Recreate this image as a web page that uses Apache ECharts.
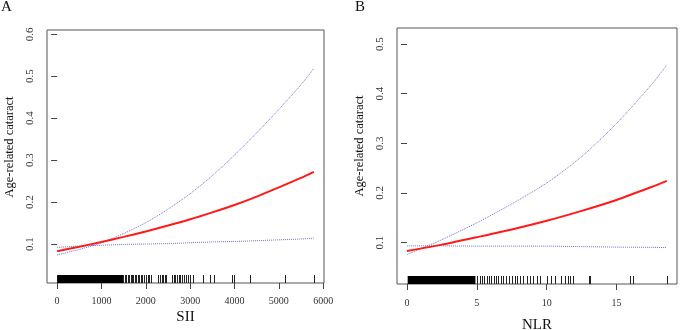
<!DOCTYPE html>
<html>
<head>
<meta charset="utf-8">
<script src="https://cdn.jsdelivr.net/npm/echarts@6/dist/echarts.min.js"></script>
<style>
  html, body { margin: 0; padding: 0; background: #fff; }
  #chart { width: 682px; height: 330px; }
</style>
</head>
<body>
<div id="chart"></div>
<script>
// panel A - SII
const siiX = [0, 500, 1000, 1500, 2000, 2500, 3000, 3500, 4000, 4500, 5000, 5500, 5790];
const siiFit = [0.083, 0.0935, 0.105, 0.117, 0.130, 0.144, 0.159, 0.1755, 0.193, 0.213, 0.235, 0.2575, 0.272];
const siiUpper = [0.074, 0.087, 0.103, 0.125, 0.151, 0.183, 0.220, 0.263, 0.312, 0.365, 0.421, 0.480, 0.519];
const siiLower = [0.092, 0.095, 0.097, 0.099, 0.100, 0.101, 0.103, 0.105, 0.106, 0.108, 0.110, 0.112, 0.114];
const siiRugBands = [[0, 1505]];
const siiRug = [1530, 1560, 1590, 1625, 1655, 1690, 1720, 1750, 1790, 1820, 1850, 1890, 1920, 1960,
  2000, 2040, 2080, 2120, 2278, 2316, 2354, 2391, 2429, 2451, 2600, 2630, 2665, 2700, 2740, 2780,
  2820, 2860, 2900, 2950, 2990, 3054, 3293, 3444, 3534, 3933, 3986, 4346, 5136, 5790];
const siiTicks = [0, 1000, 2000, 3000, 4000, 5000, 6000];
const siiYTicks = [0.1, 0.2, 0.3, 0.4, 0.5, 0.6];

// panel B - NLR
const nlrX = [0, 2.5, 5, 7.5, 10, 12.5, 15, 17.5, 18.6];
const nlrFit = [0.083, 0.096, 0.111, 0.1265, 0.144, 0.164, 0.186, 0.212, 0.2245];
const nlrUpper = [0.076, 0.106, 0.140, 0.178, 0.220, 0.273, 0.340, 0.418, 0.458];
const nlrLower = [0.0935, 0.0935, 0.093, 0.093, 0.093, 0.092, 0.091, 0.0905, 0.090];
const nlrRugBands = [[0.05, 4.9]];
const nlrRug = [5.0, 5.2, 5.35, 5.5, 5.7, 5.85, 6.0, 6.2, 6.4, 6.55, 6.7, 6.9, 7.1, 7.3, 7.5, 7.7,
  7.9, 8.1, 8.3, 8.6, 8.8, 9.0, 9.3, 9.5, 10.0, 10.3, 10.6, 11.0, 11.3, 11.5, 11.7, 11.85,
  13.0, 13.1, 16.0, 16.15, 18.64];
const nlrTicks = [0, 5, 10, 15];
const nlrYTicks = [0.1, 0.2, 0.3, 0.4, 0.5];

const FONT = 'Liberation Serif';
const RUG_LEN = 8;
const CI_COLOR = '#6f6fd8';
const YTITLE = 'Age-related cataract';

function pairs(xs, ys) {
  return xs.map((x, i) => [x, ys[i]]);
}

function xAxisOf(grid, min, max, ticks, name, margin, gap) {
  return {
    gridIndex: grid, type: 'value', min: min, max: max,
    axisLine: { show: false },
    splitLine: { show: false },
    axisTick: { customValues: ticks, length: 6, lineStyle: { color: '#444' } },
    axisLabel: {
      customValues: ticks, color: '#333', fontFamily: FONT, fontSize: 10, margin: margin,
      formatter: v => String(v)
    },
    name: name, nameLocation: 'middle', nameGap: gap, nameMoveOverlap: false,
    nameTextStyle: { color: '#111', fontFamily: FONT, fontSize: 15 }
  };
}

function yAxisOf(grid, min, max, ticks) {
  return {
    gridIndex: grid, type: 'value', min: min, max: max,
    axisLine: { show: false },
    splitLine: { show: false },
    axisTick: { customValues: ticks, length: 6, lineStyle: { color: '#444' } },
    axisLabel: {
      customValues: ticks, rotate: 90, color: '#333', fontFamily: FONT, fontSize: 11, margin: 11,
      formatter: v => v.toFixed(1)
    }
  };
}

function curve(grid, xs, ys, color, width, type) {
  return {
    type: 'line', xAxisIndex: grid, yAxisIndex: grid,
    data: pairs(xs, ys), smooth: 0.25, showSymbol: false, silent: true,
    lineStyle: { color: color, width: width, type: type }
  };
}

// rug ticks hang up from the bottom of the plot box
function rugTicks(grid, vals) {
  return {
    type: 'custom', xAxisIndex: grid, yAxisIndex: grid, silent: true,
    data: vals.map(v => [v]),
    encode: { x: 0 },
    renderItem: function (params, api) {
      const cs = params.coordSys;
      const bottom = cs.y + cs.height;
      const x = Math.round(api.coord([api.value(0), 0])[0]) + 0.5;
      return {
        type: 'line',
        shape: { x1: x, y1: bottom, x2: x, y2: bottom - RUG_LEN },
        style: { stroke: '#222', lineWidth: 1 }
      };
    }
  };
}

function rugBands(grid, bands) {
  return {
    type: 'custom', xAxisIndex: grid, yAxisIndex: grid, silent: true,
    data: bands,
    encode: { x: [0, 1] },
    renderItem: function (params, api) {
      const cs = params.coordSys;
      const bottom = cs.y + cs.height;
      const x1 = api.coord([api.value(0), 0])[0];
      const x2 = api.coord([api.value(1), 0])[0];
      return {
        type: 'rect',
        shape: { x: x1, y: bottom - RUG_LEN, width: x2 - x1, height: RUG_LEN },
        style: { fill: '#000' }
      };
    }
  };
}

function yTitle(x, y) {
  return {
    type: 'text', x: x, y: y, rotation: Math.PI / 2, silent: true,
    style: {
      text: YTITLE, fontFamily: FONT, fontSize: 12.5, fill: '#111',
      align: 'center', verticalAlign: 'middle'
    }
  };
}

const chart = echarts.init(document.getElementById('chart'), null, { renderer: 'canvas' });
chart.setOption({
  animation: false,
  backgroundColor: '#fff',
  title: [
    { text: 'A', left: 1, top: 0, padding: 0, textStyle: { fontFamily: FONT, fontWeight: 'normal', fontSize: 15, color: '#111' } },
    { text: 'B', left: 355, top: 0, padding: 0, textStyle: { fontFamily: FONT, fontWeight: 'normal', fontSize: 15, color: '#111' } }
  ],
  graphic: [yTitle(10, 147), yTitle(360, 146)],
  grid: [
    { left: 47, top: 30, width: 277, height: 253, show: true, borderColor: '#555', borderWidth: 1,
      containLabel: false, outerBoundsMode: 'none' },
    { left: 397, top: 28, width: 280, height: 256, show: true, borderColor: '#555', borderWidth: 1,
      containLabel: false, outerBoundsMode: 'none' }
  ],
  xAxis: [
    xAxisOf(0, -228, 6018, siiTicks, 'SII', 13, 27),
    xAxisOf(1, -0.714, 19.33, nlrTicks, 'NLR', 14, 34)
  ],
  yAxis: [
    yAxisOf(0, 0.0071, 0.6102, siiYTicks),
    yAxisOf(1, 0.0167, 0.5323, nlrYTicks)
  ],
  series: [
    rugBands(0, siiRugBands),
    rugTicks(0, siiRug),
    curve(0, siiX, siiUpper, CI_COLOR, 1, 'dotted'),
    curve(0, siiX, siiLower, CI_COLOR, 1, 'dotted'),
    curve(0, siiX, siiFit, '#ff1a1a', 2, 'solid'),
    rugBands(1, nlrRugBands),
    rugTicks(1, nlrRug),
    curve(1, nlrX, nlrUpper, CI_COLOR, 1, 'dotted'),
    curve(1, nlrX, nlrLower, CI_COLOR, 1, 'dotted'),
    curve(1, nlrX, nlrFit, '#ff1a1a', 2, 'solid')
  ]
});
</script>
</body>
</html>
